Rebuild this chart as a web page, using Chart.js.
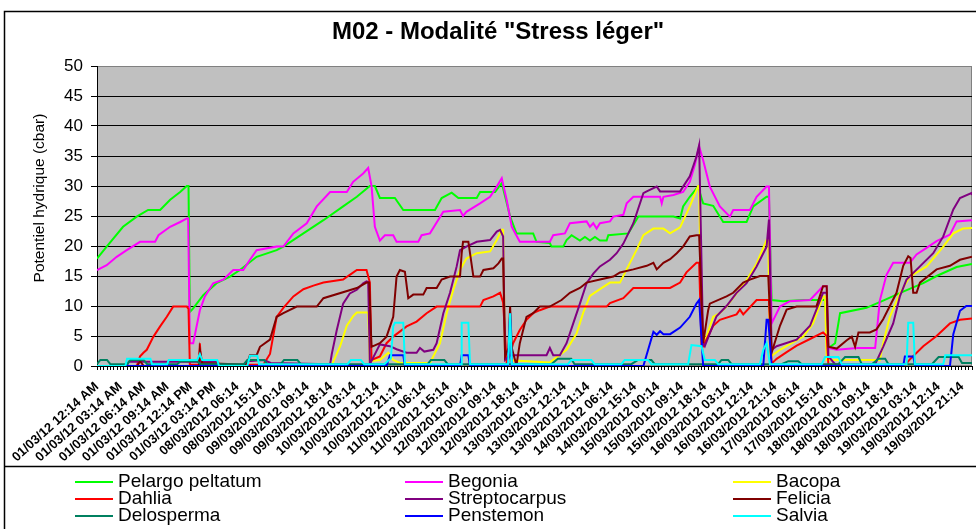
<!DOCTYPE html>
<html>
<head>
<meta charset="utf-8">
<script src="https://cdn.jsdelivr.net/npm/chart.js@4.4.1/dist/chart.umd.min.js"></script>
<style>
html,body{margin:0;padding:0;background:#fff;overflow:hidden;width:976px;height:529px}
#wrap{position:relative;width:994px;height:529px}
</style>
</head>
<body>
<div id="wrap"><canvas id="c" width="994" height="529"></canvas></div>
<script>
// ---- data (x = reading index along the time axis, y = cbar) ----
const seriesNames = ["Pelargo peltatum","Begonia","Bacopa","Dahlia","Streptocarpus","Felicia","Delosperma","Penstemon","Salvia"];
const tickLabels = [
"01/03/12 12:14 AM","01/03/12 03:14 AM","01/03/12 06:14 AM","01/03/12 09:14 AM","01/03/12 12:14 PM","01/03/12 03:14 PM",
"08/03/2012 06:14","08/03/2012 15:14","09/03/2012 00:14","09/03/2012 09:14","09/03/2012 18:14","10/03/2012 03:14",
"10/03/2012 12:14","10/03/2012 21:14","11/03/2012 06:14","11/03/2012 15:14","12/03/2012 00:14","12/03/2012 09:14",
"12/03/2012 18:14","13/03/2012 03:14","13/03/2012 12:14","13/03/2012 21:14","14/03/2012 06:14","14/03/2012 15:14",
"15/03/2012 00:14","15/03/2012 09:14","15/03/2012 18:14","16/03/2012 03:14","16/03/2012 12:14","16/03/2012 21:14",
"17/03/2012 06:14","17/03/2012 15:14","18/03/2012 00:14","18/03/2012 09:14","18/03/2012 18:14","19/03/2012 03:14",
"19/03/2012 12:14","19/03/2012 21:14"];

const pelargo = [[0,17.9],[2.9,19.9],[7.8,23.2],[11.9,24.9],[15.3,26],[18.9,26],[21.9,27.7],[24.9,29],[26.9,30],[27.4,30],[27.8,9],[28.8,9.6],[31.8,11.8],[35.8,13.8],[39.8,14.9],[42.8,16],[47.8,18.2],[53.8,19.3],[55.8,19.9],[61.8,22.1],[67.8,24.3],[73.7,26.6],[77.8,28.2],[81.7,30],[83.2,30],[84.7,28],[89.2,28],[91.7,26],[101.2,26],[103.2,28],[106.2,28.9],[108.2,28],[113.7,28],[114.7,29],[119.2,29],[121.2,30.5],[123.7,24.9],[125.6,22.1],[130.6,22.1],[131.6,20.7],[135.6,20.5],[136.1,19.9],[139.6,19.9],[140.6,21],[142.1,21.8],[144.6,20.9],[146.1,21.5],[147.6,20.9],[149.1,21.5],[150.6,20.9],[152.6,20.9],[153.1,21.8],[159.1,22.1],[162.1,24.9],[172.6,24.9],[174.6,24.6],[175.5,26.6],[177.5,28.2],[180.0,29.9],[181.0,28],[181.5,27.1],[184.5,26.7],[187.5,24],[194.5,24],[196.5,26.6],[200.5,28.2],[201.2,28.2],[202.0,11],[205.4,10.8],[211.5,11],[218.0,11],[219.0,3],[221.0,3.8],[222.5,8.8],[230.4,9.7],[235.4,10.9],[241.4,12.4],[247.4,13.8],[251.4,15],[257.4,16.5],[262,17]];
const begonia = [[0,16],[2.9,16.8],[5.9,18.2],[8.9,19.3],[12.9,20.7],[17.4,20.7],[18.4,21.8],[21.9,23.2],[24.9,24],[26.9,24.6],[27.3,24.6],[27.8,3.8],[28.8,3.8],[30.8,9.3],[32.3,11.6],[34.8,13.8],[37.8,14.4],[40.8,16],[43.8,16],[45.8,17.7],[47.8,19.3],[53.8,19.9],[55.8,19.9],[58.8,22.1],[62.8,23.8],[65.8,26.6],[69.8,29],[74.8,29],[76.7,30.7],[79.7,32.1],[81.2,33],[82.2,30],[83.2,23.2],[84.7,20.9],[86.2,21.8],[88.7,21.8],[89.7,20.7],[96.2,20.7],[97.2,21.8],[99.7,22.1],[103.7,25.7],[108.7,26],[109.6,25],[110.6,25.7],[114.7,27.1],[117.7,28.2],[119.7,29.9],[121.2,31.3],[122.7,27.6],[124.2,23.2],[126.6,20.7],[135.6,20.7],[136.6,21.8],[140.1,22.1],[141.6,23.8],[146.6,24.1],[147.6,23.2],[148.6,23.8],[149.6,22.9],[150.6,23.8],[153.6,24.1],[154.6,24.9],[157.6,25.2],[158.6,27.1],[160.6,28.2],[168.6,28.2],[169.1,27.1],[169.6,28.2],[172.6,28.5],[175.5,29],[177.5,30.7],[179.0,33.5],[180.3,36.6],[181.5,34.3],[183.5,29.9],[186.5,26.6],[189.5,24.9],[190.5,26],[195.5,26],[197.5,28.2],[200.5,29.9],[201.2,29.9],[202.0,7.1],[204.5,9.9],[207.5,10.8],[213.5,11],[217.4,13.3],[218.5,13.3],[219.0,3],[221.5,2.7],[227.6,3],[233,3],[234.4,10.9],[236.4,15.2],[238.4,17.2],[243.4,17.2],[245.4,18.6],[248.4,19.7],[251.4,20.8],[255.4,21.9],[257.4,24.1],[262,24.3]];
const bacopa = [[0,0],[69.8,0],[70.3,0.2],[72.8,3.3],[74.8,6.7],[76.7,8.3],[77.8,8.9],[80.7,8.9],[81.2,8.9],[81.7,0.8],[84.7,1],[87.2,2.2],[88.7,1],[90.7,0.5],[99.7,0.5],[102.7,3.8],[104.7,8.8],[106.7,12.7],[108.7,16],[110.6,17.9],[113.7,18.8],[117.7,19.1],[119.7,21],[121.2,22.7],[121.6,22.7],[122.2,1],[135.6,0.6],[140.6,2.7],[143.6,5.4],[145.6,8.9],[147.6,11.7],[150.6,12.8],[153.6,13.9],[156.6,13.9],[158.6,16.1],[161.6,19.4],[163.6,21.8],[166.6,22.9],[169.6,22.9],[171.6,22.1],[174.6,23.1],[177.5,26.6],[180.0,30],[180.3,30],[181.0,3.5],[181.5,3.3],[184.5,8.2],[186.5,8.8],[188.5,9.9],[194.5,14.3],[197.5,17.1],[200.5,21],[201.0,21],[201.5,1.5],[204.5,2.7],[211.5,4.9],[214.4,7.1],[217.4,11.6],[218.0,11.6],[218.5,1],[234.4,1],[235.4,3.8],[237.4,8.2],[240.4,12.1],[243.4,14.9],[248.4,16.6],[253.4,19.9],[256.4,22.1],[259.3,22.9],[262,23]];
const dahlia = [[0,0],[11.9,0],[12.9,1.6],[13.9,2.2],[14.9,2.7],[16.9,4.9],[18.9,6.6],[20.9,8.2],[22.8,9.9],[26.9,9.9],[27.4,9.5],[27.8,0.2],[30.5,0.2],[30.8,3.8],[31.2,0.2],[49.8,0.2],[51.8,2],[53.8,8.2],[55.8,9.7],[58.8,11.6],[61.8,12.8],[64.8,13.4],[67.8,13.9],[73.7,14.4],[75.7,15.2],[77.8,16],[80.7,16],[81.7,13.9],[82.2,1],[84.7,1.6],[86.7,3.8],[88.7,4.9],[92.7,6.6],[95.7,7.4],[98.7,8.8],[101.7,9.9],[114.7,9.9],[115.7,11],[118.7,11.6],[120.7,12.2],[121.6,10.6],[122.7,0.4],[123.7,2],[124.6,3.8],[126.6,6],[128.6,7.7],[130.6,8.8],[132.6,9.3],[135.6,9.9],[152.6,9.9],[153.6,10.5],[157.6,11.3],[160.6,13],[171.6,13],[174.6,13.9],[176.5,15.6],[179.5,17.2],[180.3,17.2],[181.0,3.5],[181.5,3.3],[184.5,6.7],[186.5,7.7],[191.5,8.6],[192.5,9.4],[193.5,8.6],[197.5,11],[200.5,11],[201.2,11],[202.0,0.4],[203.5,1.2],[206.5,2.3],[209.5,3.4],[213.5,4.5],[217.4,5.6],[218.5,5],[219.0,0.2],[242,0.2],[243.4,1.1],[247.4,3.3],[251.4,5],[255.4,7.1],[258.4,7.7],[262,7.9]];
const strepto = [[0,0],[8.9,0],[9.5,0.7],[36,0.7],[37,0],[44,0],[45,0.8],[50,1],[52,0.5],[69.8,0.3],[70.3,2],[71.8,6],[73.7,10.4],[75.7,12.1],[77.8,12.7],[79.7,13.8],[80.7,14.1],[81.2,14],[81.7,0.3],[84.7,3.6],[87.7,3.3],[89.7,2.8],[92.7,2.2],[95.7,2.2],[96.7,3],[98,2.4],[100.7,2.7],[101.7,3.8],[103.7,8.8],[105.7,12.2],[107.7,16.6],[108.7,19.3],[110.6,19.9],[113.7,20.7],[117.7,21],[119.7,22.4],[120.7,22.7],[121.6,21.6],[122.2,1],[123.7,1.8],[134.6,1.8],[135.6,3],[136.6,1.8],[138.6,1.8],[140.6,3.8],[142.6,7.1],[144.6,10.4],[146.6,13.8],[148.6,15.4],[150.6,16.6],[153.6,17.7],[155.6,18.8],[157.6,20.4],[160.6,23.8],[163.6,28.8],[164.6,29.1],[167.6,29.9],[168.6,29.1],[174.6,29.1],[175.5,29.9],[177.5,31.6],[179.5,34.9],[180.3,36.8],[181.5,3.8],[182,3.3],[185.5,8.3],[188.5,10],[191.5,12.2],[194.5,13.8],[197.5,16.6],[200.5,19.9],[201.2,24.4],[202.0,2.7],[203.5,3.3],[209.5,4.4],[213.5,6.7],[217.4,12.2],[218.5,12.2],[219.0,1.6],[221,0.3],[233,0.3],[235.4,3.2],[238.4,7.1],[240.4,11.6],[242.4,14.4],[246.4,16.6],[250.4,18.8],[253.4,21.6],[256.4,26.1],[258.4,28],[261.8,28.8],[262,28.5]];
const felicia = [[0,0],[12,0],[12.9,0.8],[14,0],[30.5,0],[30.8,2.7],[31.5,0.5],[44.8,0.2],[45.8,1.8],[47.8,1.8],[48.8,3.2],[51.8,4.4],[53.8,8.2],[55.8,8.8],[59.8,9.9],[65.8,9.9],[67.8,11.3],[77.8,13],[80.7,13.9],[81.5,13.9],[82.2,3.2],[84.7,3.8],[86.7,4.9],[88.7,8.2],[89.7,14.9],[90.7,16],[92.2,15.7],[93.2,11.3],[94.7,11.9],[97.7,11.9],[98.7,13],[101.7,13],[103.2,14.4],[105.7,14.9],[108.7,14.9],[109.2,18.8],[109.6,20.7],[111.2,20.7],[112.7,14.9],[114.7,14.9],[115.7,16],[118.7,16.3],[120.2,17.1],[121.2,17.9],[121.6,17.9],[122.2,1.6],[123.2,3],[123.7,9.9],[124.2,3],[125.6,0.1],[126.6,3.8],[128.6,8.2],[130.6,8.8],[132.6,9.9],[135.6,9.9],[139.1,11],[141.6,12.2],[144.6,13],[146.6,13.9],[150.6,14.4],[154.6,14.9],[156.6,15.6],[160.6,16.1],[164.6,16.7],[166.6,17.2],[167.6,16.1],[169.6,17.2],[171.6,17.8],[173.6,18.8],[175.5,19.9],[177.5,21.6],[179.5,21.8],[180.3,21.8],[181.5,3.8],[183,9.3],[183.5,10.4],[188.5,11.6],[190.5,12.2],[193.5,13.9],[195.5,14.4],[198.5,15],[201.0,15],[202.0,2.2],[204.5,6.7],[206.5,9.4],[209.5,9.9],[215.4,9.9],[217.4,13.3],[218.5,13.3],[219.0,3.2],[221.5,2.9],[224.5,4.3],[226.0,4.9],[227.0,3.2],[228,5.6],[231.4,5.6],[233.4,6.1],[235.4,7.8],[239.4,12.2],[241.4,16.7],[242.9,18.3],[243.6,18],[244.4,12.2],[245.4,12.2],[246.4,13.9],[251.4,16.1],[255.4,16.7],[258.4,17.7],[262,18.2]];
const delosperma = [[0,0.3],[1,1],[3,1],[4,0.3],[9,0.3],[10,1],[14,1],[15,0.3],[24,0.3],[25,0.8],[30,0.8],[31,0.3],[44,0.3],[45,1],[50,1],[51,0.3],[55,0.3],[56,1],[60,1],[61,0.3],[99,0.3],[100,1],[104,1],[105,0.3],[136,0.3],[138,1.2],[142,1.2],[143,0.3],[160,0.3],[162,1],[166,1],[167,0.3],[186,0.3],[187,1],[189,1],[190,0.3],[205,0.3],[207,0.8],[210,0.8],[211,0.3],[222,0.3],[224,1.5],[228,1.5],[229,0.3],[232,0.3],[234,1.2],[236,1.2],[237,0.3],[250,0.3],[252,1.5],[258,1.5],[259,0.5],[262,0.5]];
const penstemon = [[0,0],[86.7,0],[87.7,1.8],[91.7,1.8],[92.2,0],[108.7,0],[109.2,1.8],[111.2,1.8],[111.7,0],[123.1,0],[123.7,8.8],[124.2,0],[163.6,0],[166.6,5.7],[167.6,5.2],[168.6,5.8],[169.6,5.3],[171.6,5.3],[174.6,6.4],[177.5,8.2],[179.5,10.4],[180.3,11],[181.5,0],[199.5,0],[200.5,7.7],[201.0,7.7],[202.0,0],[241.4,0],[241.9,1.6],[244.4,1.6],[245,0],[255.4,0],[256.4,5.3],[258.4,9.2],[260.3,10],[262,10]];
const salvia = [[0,0],[8.5,0],[9,1.2],[16,1.2],[16.5,0.3],[21,0.3],[21.5,1],[30,1],[30.8,2],[31.5,1],[36,1],[36.5,0],[45,0],[45.8,1.7],[48,1.7],[48.5,0.3],[75,0.3],[76,1],[79,1],[80,0.3],[86,0.3],[88,1.3],[88.7,6.6],[89.2,7.2],[91.7,7.2],[92.2,0.3],[109,0.3],[109.2,7.2],[111.2,7.2],[111.7,0.3],[123.1,0.3],[123.7,8.8],[124.2,0.3],[141,0.3],[142,1],[148,1],[149,0.3],[157,0.3],[158,1],[165,1],[166,0.3],[177,0.3],[178,3.5],[181,3.3],[182,1],[185,1],[186,0.3],[198.5,0.3],[199.5,2.7],[200.5,3.8],[201.5,0.3],[217,0.3],[218,1.5],[222,1.5],[223,0.3],[242.4,0.3],[242.9,7.2],[244.4,7.2],[244.9,0.3],[253.4,0.3],[254,1.8],[262,1.8]];

// ---- chart ----
const colors = ["#00FF00","#FF00FF","#FFFF00","#FF0000","#800080","#800000","#008060","#0000FF","#00FFFF"];
const allSeries = [pelargo,begonia,bacopa,dahlia,strepto,felicia,delosperma,penstemon,salvia];
const FONT = '"Liberation Sans", Arial, Helvetica, sans-serif';
Chart.defaults.font.family = FONT;
Chart.defaults.color = '#000';

const frame = {
  id: 'frame',
  beforeDraw(chart) {
    const {ctx, chartArea: a} = chart;
    ctx.save();
    ctx.fillStyle = '#C0C0C0';
    ctx.fillRect(a.left, a.top, a.right - a.left, a.bottom - a.top);
    ctx.strokeStyle = '#808080';
    ctx.lineWidth = 1;
    ctx.strokeRect(a.left + 0.5, a.top + 0.5, a.right - a.left - 1, a.bottom - a.top - 1);
    ctx.restore();
  },
  afterDraw(chart) {
    const {ctx} = chart;
    ctx.save();
    ctx.strokeStyle = '#000';
    ctx.lineWidth = 1.5;
    ctx.strokeRect(4.5, 11.5, 1000, 540);
    ctx.beginPath(); ctx.moveTo(4.5, 466.5); ctx.lineTo(1000, 466.5); ctx.stroke();
    ctx.fillStyle = '#000';
    ctx.font = '15.5px ' + FONT;
    ctx.textAlign = 'center'; ctx.textBaseline = 'middle';
    ctx.translate(40, 198); ctx.rotate(-Math.PI / 2);
    ctx.fillText('Potentiel hydrique (cbar)', 0, 0);
    ctx.setTransform(1, 0, 0, 1, 0, 0);
    const colX = [75, 405, 733], rowY = [482, 499, 516];
    ctx.font = '19px ' + FONT;
    ctx.textAlign = 'left';
    chart.data.datasets.forEach((ds, i) => {
      const x = colX[i % 3], y = rowY[Math.floor(i / 3)];
      ctx.strokeStyle = ds.borderColor; ctx.lineWidth = 2;
      ctx.beginPath(); ctx.moveTo(x, y); ctx.lineTo(x + 38, y); ctx.stroke();
      ctx.fillStyle = '#000';
      ctx.fillText(ds.label, x + 43, y);
    });
    ctx.restore();
  }
};

new Chart(document.getElementById('c'), {
  type: 'line',
  data: {
    datasets: allSeries.map((d, i) => ({
      label: seriesNames[i],
      data: d.map(p => ({x: p[0], y: p[1]})),
      borderColor: colors[i],
      backgroundColor: colors[i],
      borderWidth: 2,
      pointRadius: 0,
      tension: 0,
      fill: false,
      order: 9 - i
    }))
  },
  options: {
    responsive: false,
    animation: false,
    devicePixelRatio: 1,
    layout: {padding: {left: 24, right: 22, top: 0, bottom: 63}},
    plugins: {
      legend: {display: false},
      tooltip: {enabled: false},
      title: {
        display: true,
        text: 'M02 - Modalité "Stress léger"',
        color: '#000',
        font: {family: FONT, size: 24, weight: 'bold'},
        padding: {top: 17.6, bottom: 19.6}
      }
    },
    scales: {
      x: {
        type: 'linear', min: 0, max: 262,
        afterFit: s => { s.height = 100; },
        border: {color: '#000', width: 1},
        grid: {drawOnChartArea: false, drawTicks: true, tickLength: 4, color: '#000'},
        ticks: {
          stepSize: 1, autoSkip: false, minRotation: 42, maxRotation: 42, padding: 9,
          color: '#000', font: {family: FONT, size: 13, weight: 'bold'},
          callback: v => (v % 7 === 0 && tickLabels[v / 7] !== undefined) ? tickLabels[v / 7] : ''
        }
      },
      y: {
        min: 0, max: 50,
        afterFit: s => { s.width = 73; },
        border: {color: '#000', width: 1},
        grid: {color: c => (c.tick && c.tick.value === 50) ? '#808080' : '#000', tickLength: 6, tickColor: '#000'},
        ticks: {stepSize: 5, padding: 8, color: '#000', font: {family: FONT, size: 17}}
      }
    }
  },
  plugins: [frame]
});
</script>
</body>
</html>
